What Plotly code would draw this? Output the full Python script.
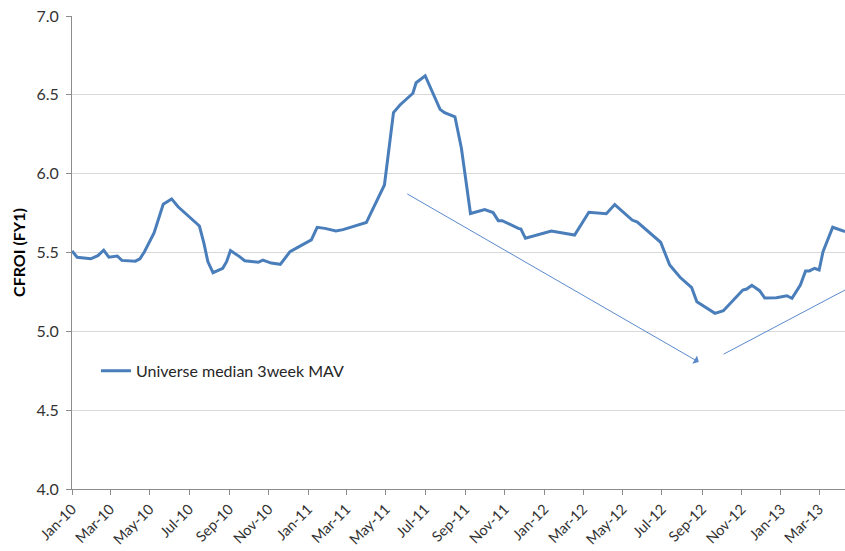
import plotly.graph_objects as go

dates = [
    "2010-01-01", "2010-01-09", "2010-01-30", "2010-02-10", "2010-02-19", "2010-02-27",
    "2010-03-12", "2010-03-19", "2010-04-09", "2010-04-16", "2010-04-23", "2010-05-08",
    "2010-05-22", "2010-06-04", "2010-06-14", "2010-07-17", "2010-07-24", "2010-07-30",
    "2010-08-07", "2010-08-22", "2010-08-28", "2010-09-03", "2010-09-17", "2010-09-25",
    "2010-10-16", "2010-10-23", "2010-11-05", "2010-11-19", "2010-12-04", "2011-01-06",
    "2011-01-15", "2011-01-27", "2011-02-13", "2011-02-24", "2011-04-01", "2011-04-29",
    "2011-05-13", "2011-05-23", "2011-06-12", "2011-06-17", "2011-07-01", "2011-07-13",
    "2011-07-24", "2011-07-31", "2011-08-16", "2011-08-26", "2011-09-09", "2011-10-01",
    "2011-10-14", "2011-10-22", "2011-10-28", "2011-11-22", "2011-11-26", "2011-12-03",
    "2012-01-12", "2012-02-17", "2012-03-10", "2012-04-06", "2012-04-19", "2012-05-16",
    "2012-05-24", "2012-06-29", "2012-07-13", "2012-07-29", "2012-08-16", "2012-08-24",
    "2012-09-21", "2012-10-04", "2012-11-03", "2012-11-09", "2012-11-17", "2012-11-29",
    "2012-12-07", "2012-12-25", "2013-01-10", "2013-01-18", "2013-01-31", "2013-02-08",
    "2013-02-14", "2013-02-22", "2013-03-01", "2013-03-07", "2013-03-22", "2013-04-10",
]
cfroi = [
    5.51, 5.47, 5.46, 5.48, 5.515, 5.47,
    5.478, 5.45, 5.445, 5.46, 5.505, 5.626,
    5.806, 5.84, 5.79, 5.668, 5.558, 5.442,
    5.372, 5.40, 5.442, 5.512, 5.474, 5.448,
    5.438, 5.452, 5.433, 5.425, 5.505, 5.58,
    5.66, 5.653, 5.636, 5.645, 5.69, 5.928,
    6.387, 6.436, 6.51, 6.577, 6.621, 6.51,
    6.408, 6.387, 6.361, 6.161, 5.747, 5.772,
    5.753, 5.702, 5.702, 5.653, 5.649, 5.59,
    5.636, 5.611, 5.755, 5.746, 5.804, 5.706,
    5.693, 5.565, 5.421, 5.343, 5.277, 5.188,
    5.114, 5.131, 5.262, 5.268, 5.292, 5.258,
    5.211, 5.213, 5.226, 5.209, 5.294, 5.383,
    5.383, 5.40, 5.389, 5.505, 5.66, 5.632,
]
series_name = "Universe median 3week MAV"
y_title = "CFROI (FY1)"
tick_dates = [
    "2010-01-01", "2010-03-01", "2010-05-01", "2010-07-01", "2010-09-01", "2010-11-01",
    "2011-01-01", "2011-03-01", "2011-05-01", "2011-07-01", "2011-09-01", "2011-11-01",
    "2012-01-01", "2012-03-01", "2012-05-01", "2012-07-01", "2012-09-01", "2012-11-01",
    "2013-01-01", "2013-03-01",
]
tick_labels = [
    "Jan-10", "Mar-10", "May-10", "Jul-10", "Sep-10", "Nov-10",
    "Jan-11", "Mar-11", "May-11", "Jul-11", "Sep-11", "Nov-11",
    "Jan-12", "Mar-12", "May-12", "Jul-12", "Sep-12", "Nov-12",
    "Jan-13", "Mar-13",
]
x_range = ["2010-01-01", "2013-04-10"]
y_ticks = [4.0, 4.5, 5.0, 5.5, 6.0, 6.5, 7.0]

# trend arrows (annotation overlay)
arrow_down = (("2011-06-01", 5.877), ("2012-08-27", 4.805))
arrow_up = (("2012-10-02", 4.85), ("2013-04-10", 5.262))

FONT = "Lato, 'Open Sans', sans-serif"
LINE = "#4A7EBB"
ARROW = "#5B8ACB"

fig = go.Figure()
fig.add_trace(go.Scatter(
    x=dates, y=cfroi, mode="lines", name=series_name,
    line=dict(color=LINE, width=3), showlegend=True,
))

for (start, end), head in ((arrow_down, 1), (arrow_up, 0)):
    fig.add_annotation(
        x=end[0], y=end[1], ax=start[0], ay=start[1],
        xref="x", yref="y", axref="x", ayref="y",
        showarrow=True, arrowhead=head, arrowsize=1.6, arrowwidth=1,
        arrowcolor=ARROW, text="",
    )

fig.update_layout(
    width=845, height=551,
    margin=dict(l=72, r=0, t=16, b=62),
    paper_bgcolor="white", plot_bgcolor="white",
    font=dict(family=FONT, size=13, color="#404040"),
    showlegend=True,
    legend=dict(x=0.031, y=0.25, xanchor="left", yanchor="middle",
                bgcolor="rgba(0,0,0,0)", font=dict(size=16, color="#262626"),
                itemwidth=30),
    xaxis=dict(
        type="date", range=x_range, tickvals=tick_dates, ticktext=tick_labels,
        tickangle=-45, showgrid=False, showline=True, linecolor="#8c8c8c",
        ticks="outside", ticklen=5, tickcolor="#8c8c8c", zeroline=False,
        tickfont=dict(size=14.5, color="#333333"), automargin=False,
    ),
    yaxis=dict(
        range=[4.0, 7.0], tickvals=y_ticks, tickformat=".1f",
        showgrid=True, gridcolor="#d9d9d9", gridwidth=1,
        showline=True, linecolor="#8c8c8c", ticks="outside", ticklen=5,
        tickcolor="#8c8c8c", zeroline=False, automargin=False,
        ticklabelstandoff=4,
        tickfont=dict(size=16, color="#333333"),
        title=dict(text="<b>" + y_title + "</b>", font=dict(size=16, color="#000000"), standoff=6),
    ),
)

# remove the browser's default 8px page margin so the figure sits at the window origin
fig.write_html("out.html", config={"displayModeBar": False},
               post_script="document.body.style.margin='0';")
